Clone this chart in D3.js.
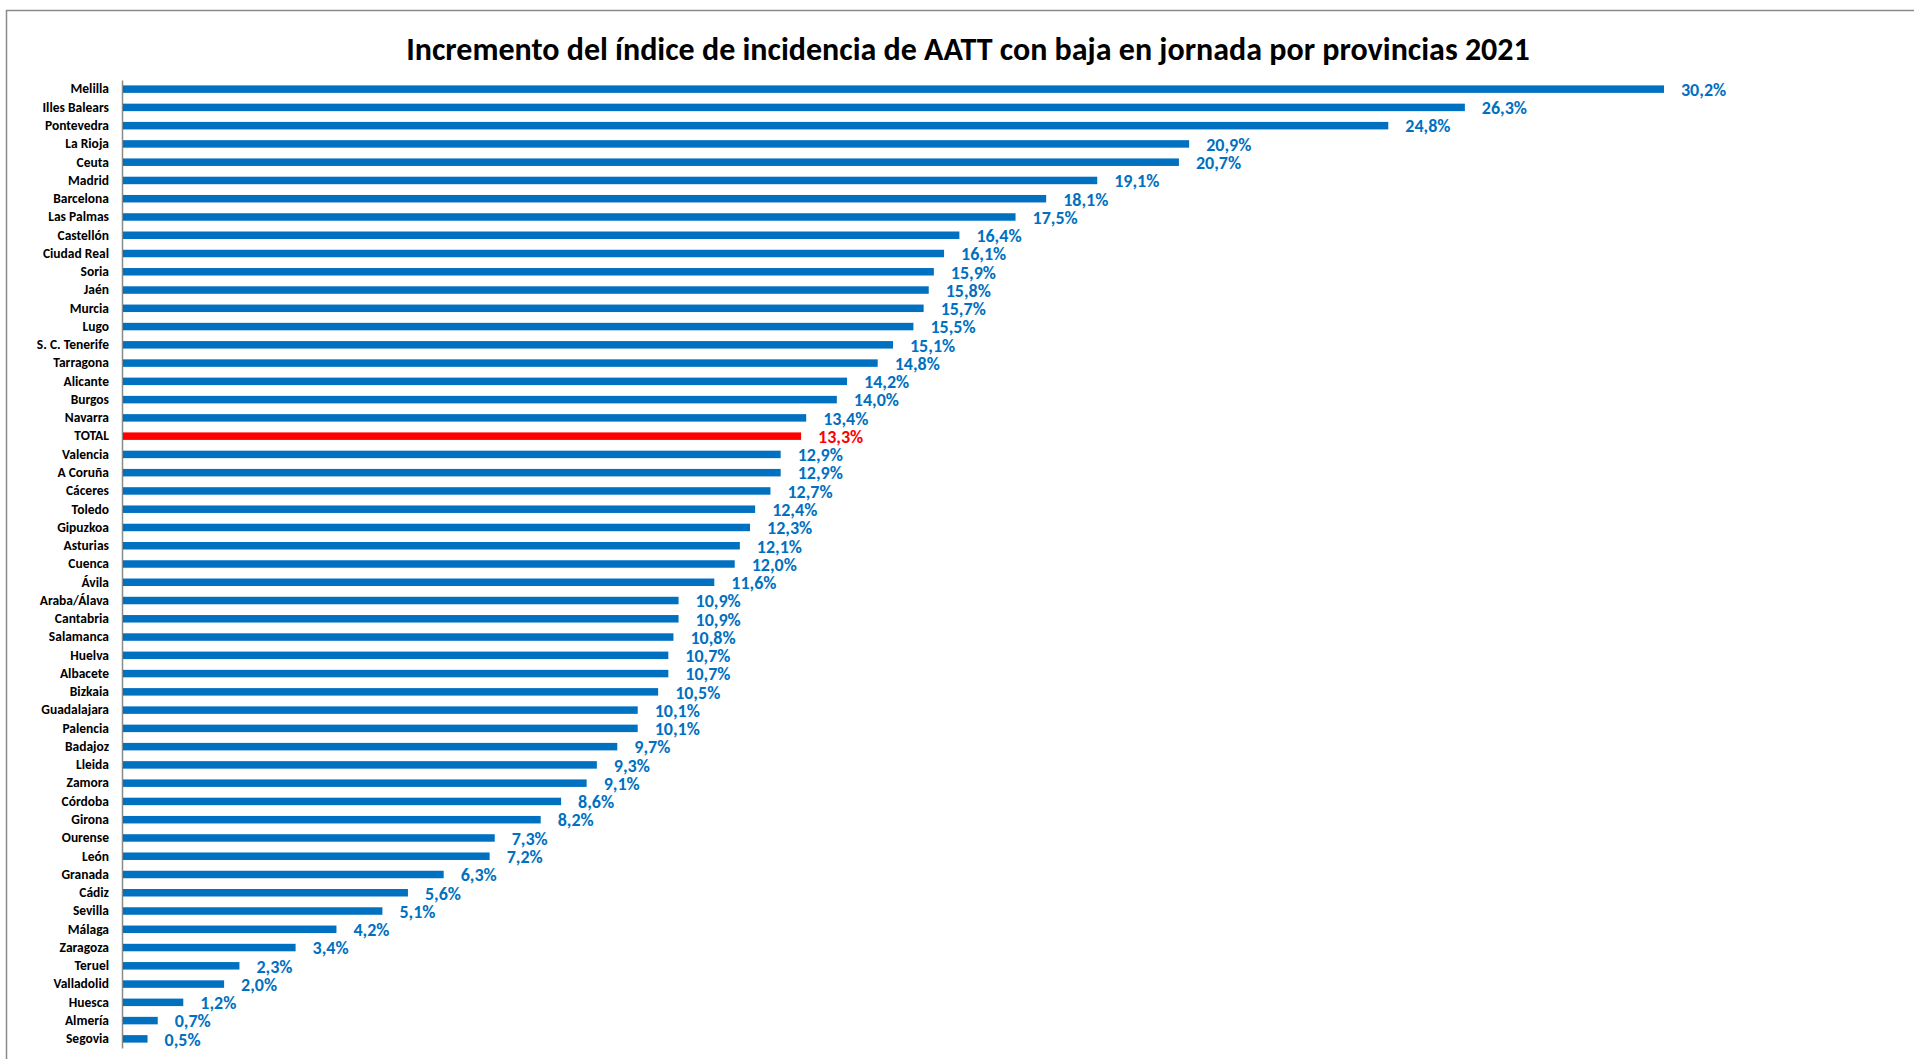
<!DOCTYPE html>
<html>
<head>
<meta charset="utf-8">
<script src="https://cdn.jsdelivr.net/npm/d3@7"></script>
<style>
  body { margin: 0; background: #fff; }
  svg { display: block; font-family: Calibri, Carlito, 'Open Sans', sans-serif; }
</style>
</head>
<body>
<svg id="chart" width="1914" height="1059"></svg>
<script>
const title = 'Incremento del índice de incidencia de AATT con baja en jornada por provincias 2021';

const provincias = [
  'Melilla', 'Illes Balears', 'Pontevedra', 'La Rioja', 'Ceuta', 'Madrid', 'Barcelona',
  'Las Palmas', 'Castellón', 'Ciudad Real', 'Soria', 'Jaén', 'Murcia', 'Lugo',
  'S. C. Tenerife', 'Tarragona', 'Alicante', 'Burgos', 'Navarra', 'TOTAL', 'Valencia',
  'A Coruña', 'Cáceres', 'Toledo', 'Gipuzkoa', 'Asturias', 'Cuenca', 'Ávila',
  'Araba/Álava', 'Cantabria', 'Salamanca', 'Huelva', 'Albacete', 'Bizkaia',
  'Guadalajara', 'Palencia', 'Badajoz', 'Lleida', 'Zamora', 'Córdoba', 'Girona',
  'Ourense', 'León', 'Granada', 'Cádiz', 'Sevilla', 'Málaga', 'Zaragoza', 'Teruel',
  'Valladolid', 'Huesca', 'Almería', 'Segovia'
];

const incremento = [
  30.2, 26.3, 24.8, 20.9, 20.7, 19.1, 18.1,
  17.5, 16.4, 16.1, 15.9, 15.8, 15.7, 15.5,
  15.1, 14.8, 14.2, 14.0, 13.4, 13.3, 12.9,
  12.9, 12.7, 12.4, 12.3, 12.1, 12.0, 11.6,
  10.9, 10.9, 10.8, 10.7, 10.7, 10.5,
  10.1, 10.1, 9.7, 9.3, 9.1, 8.6, 8.2,
  7.3, 7.2, 6.3, 5.6, 5.1, 4.2, 3.4, 2.3,
  2.0, 1.2, 0.7, 0.5
];

const totalLabel = 'TOTAL';
const blue = '#0070C0', red = '#FF0000';

const data = provincias.map((p, i) => ({ name: p, value: incremento[i] }));

const svg = d3.select('#chart');
const W = 1914, H = 1059;

svg.append('rect').attr('width', W).attr('height', H).attr('fill', '#fff');

// outer frame (only top and left edges visible)
svg.append('path')
  .attr('d', `M6.5,${H} V10.5 H${W}`)
  .attr('fill', 'none')
  .attr('stroke', '#8a8a8a')
  .attr('stroke-width', 1.5);

// title: size it so it spans the same width as the original
const t = svg.append('text')
  .attr('x', 968).attr('y', 60)
  .attr('text-anchor', 'middle')
  .style('font-size', '30px')
  .style('font-weight', 'bold')
  .attr('fill', '#000')
  .text(title);
const tw = t.node().getComputedTextLength();
t.style('font-size', (30 * 1124 / tw).toFixed(2) + 'px');

const x = d3.scaleLinear().domain([0, 30.2]).range([122, 1664]);
const y = d3.scaleBand().domain(provincias).range([80, 1048]).paddingInner(0.59).paddingOuter(0.295);

const yAxis = svg.append('g')
  .attr('transform', 'translate(122,0)')
  .call(d3.axisLeft(y).tickSize(0).tickPadding(13));
yAxis.select('.domain').attr('stroke', '#8a8a8a').attr('stroke-width', 1.5);
yAxis.selectAll('text')
  .style('font-size', '13.5px')
  .style('font-weight', 'bold')
  .style('font-family', "Calibri, Carlito, 'Open Sans', sans-serif")
  .attr('fill', '#000');

svg.append('g').selectAll('rect')
  .data(data)
  .enter().append('rect')
  .attr('x', x(0) + 1)
  .attr('y', d => y(d.name))
  .attr('width', d => x(d.value) - x(0) - 1)
  .attr('height', y.bandwidth())
  .attr('fill', d => d.name === totalLabel ? red : blue);

svg.append('g').selectAll('text')
  .data(data)
  .enter().append('text')
  .attr('x', d => x(d.value) + 17)
  .attr('y', d => y(d.name) + y.bandwidth() / 2 + 0.5)
  .attr('dy', '0.35em')
  .style('font-size', '18px')
  .style('font-weight', 'bold')
  .attr('fill', d => d.name === totalLabel ? red : blue)
  .text(d => d.value.toFixed(1).replace('.', ',') + '%');
</script>
</body>
</html>
